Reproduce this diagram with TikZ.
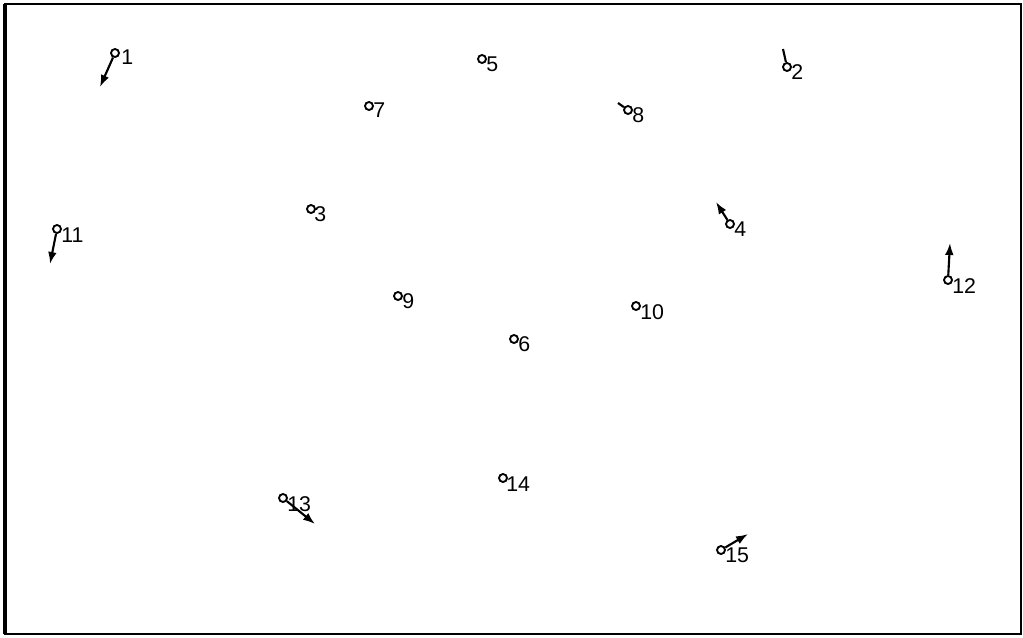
\documentclass[tikz,border=0pt]{standalone}
\usepackage{fontspec}
\setmainfont{Liberation Sans}
\usetikzlibrary{arrows.meta}
\begin{document}
\begin{tikzpicture}[x=0.75pt,y=-0.75pt,
  pt/.style={circle,draw,line width=1.4pt,inner sep=0pt,minimum size=6pt},
  lab/.style={anchor=west,inner sep=0pt,font=\fontsize{16}{16}\selectfont},
  vec/.style={line width=1.6pt,-{Latex[length=9pt,width=6.5pt]}},
  tail/.style={line width=1.6pt}]
\useasboundingbox (0,0) rectangle (1023,637);
\draw[line width=2pt] (5,4) rectangle (1021,634);
\draw[line width=2.5pt] (5,4) -- (5,634);
% points
\node[pt] (p1) at (115,53) {};
\node[pt] (p2) at (787,67) {};
\node[pt] (p3) at (311,209) {};
\node[pt] (p4) at (730,224) {};
\node[pt] (p5) at (482,59) {};
\node[pt] (p6) at (514,339) {};
\node[pt] (p7) at (369,106) {};
\node[pt] (p8) at (628,110) {};
\node[pt] (p9) at (398,296) {};
\node[pt] (p10) at (636,306) {};
\node[pt] (p11) at (57,229) {};
\node[pt] (p12) at (948,280) {};
\node[pt] (p13) at (283,498) {};
\node[pt] (p14) at (503,478) {};
\node[pt] (p15) at (721,550) {};
% labels
\node[lab] (l1) at (121,57) {1};
\node[lab] (l2) at (791,72) {2};
\node[lab] (l3) at (314,214) {3};
\node[lab] (l4) at (734,229) {4};
\node[lab] (l5) at (486,64) {5};
\node[lab] (l6) at (518,344) {6};
\node[lab] (l7) at (373,110) {7};
\node[lab] (l8) at (632,115) {8};
\node[lab] (l9) at (402,301) {9};
\node[lab] (l10) at (640,312) {10};
\node[lab] (l11) at (61,235) {11};
\node[lab] (l12) at (952,286) {12};
\node[lab] (l13) at (287,504) {13};
\node[lab] (l14) at (506,484) {14};
\node[lab] (l15) at (725,555) {15};
% vector ends
\coordinate (a1) at (100,87);
\coordinate (a2) at (783,49);
\coordinate (a4) at (716,202);
\coordinate (a8) at (618,103);
\coordinate (a11) at (50,264);
\coordinate (a12) at (950,243);
\coordinate (a13) at (315,524);
\coordinate (a15) at (748,534);
\draw[vec] (p1) -- (a1);
\draw[tail] (p2) -- (a2);
\draw[vec] (p4) -- (a4);
\draw[tail] (p8) -- (a8);
\draw[vec] (p11) -- (a11);
\draw[vec] (p12) -- (a12);
\draw[vec] (p13) -- (a13);
\draw[vec] (p15) -- (a15);
\end{tikzpicture}
\end{document}
